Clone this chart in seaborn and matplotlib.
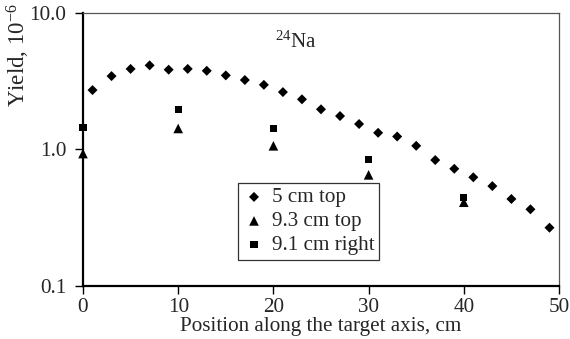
import matplotlib
matplotlib.use("Agg")
import matplotlib.pyplot as plt
import seaborn as sns
import pandas as pd
from matplotlib.ticker import FixedLocator, FixedFormatter, NullLocator

# Yield of 24Na along the target axis for three detector placements
pos_5cm_top = [1, 3, 5, 7, 9, 11, 13, 15, 17, 19, 21, 23, 25, 27, 29, 31, 33,
               35, 37, 39, 41, 43, 45, 47, 49]
yield_5cm_top = [2.71, 3.43, 3.87, 4.11, 3.82, 3.87, 3.75, 3.47, 3.21, 2.96,
                 2.62, 2.32, 1.96, 1.75, 1.53, 1.32, 1.24, 1.06, 0.834, 0.72,
                 0.624, 0.538, 0.433, 0.364, 0.267]

pos_9_3cm_top = [0, 10, 20, 30, 40]
yield_9_3cm_top = [0.93, 1.42, 1.06, 0.65, 0.41]

pos_9_1cm_right = [0, 10, 20, 30, 40]
yield_9_1cm_right = [1.44, 1.96, 1.42, 0.84, 0.446]

series_names = ["5 cm top", "9.3 cm top", "9.1 cm right"]
x_ticks = [0, 10, 20, 30, 40, 50]
y_ticks = [0.1, 1.0, 10.0]
y_tick_labels = ["0.1", "1.0", "10.0"]

df = pd.concat([
    pd.DataFrame({"pos": pos_5cm_top, "yield": yield_5cm_top, "series": series_names[0]}),
    pd.DataFrame({"pos": pos_9_3cm_top, "yield": yield_9_3cm_top, "series": series_names[1]}),
    pd.DataFrame({"pos": pos_9_1cm_right, "yield": yield_9_1cm_right, "series": series_names[2]}),
], ignore_index=True)

sns.set_style("white")
plt.rcParams["font.family"] = ["Liberation Serif", "DejaVu Serif"]
plt.rcParams["mathtext.fontset"] = "custom"
plt.rcParams["mathtext.rm"] = "Liberation Serif"
plt.rcParams["mathtext.it"] = "Liberation Serif:italic"

FS = 15.2

fig = plt.figure(figsize=(5.7, 3.39), dpi=100)
ax = fig.add_axes([0.1456, 0.1563, 0.8351, 0.8067])

markers = {series_names[0]: "D", series_names[1]: "^", series_names[2]: "s"}
sizes = {series_names[0]: 26, series_names[1]: 48, series_names[2]: 26}
for name in series_names:
    sub = df[df["series"] == name]
    sns.scatterplot(data=sub, x="pos", y="yield", ax=ax, marker=markers[name],
                    s=sizes[name], color="black", edgecolor="none",
                    label=name, zorder=3, clip_on=False)

ax.set_yscale("log")
ax.set_xlim(0, 50)
ax.set_ylim(0.1, 10.0)
ax.xaxis.set_major_locator(FixedLocator(x_ticks))
ax.yaxis.set_major_locator(FixedLocator(y_ticks))
ax.yaxis.set_major_formatter(FixedFormatter(y_tick_labels))
ax.yaxis.set_minor_locator(NullLocator())

for side in ["left", "bottom"]:
    ax.spines[side].set_color("black")
    ax.spines[side].set_linewidth(1.6)
for side in ["top", "right"]:
    ax.spines[side].set_color("#555555")
    ax.spines[side].set_linewidth(0.9)
    ax.spines[side].set_visible(True)

ax.tick_params(axis="both", which="major", direction="out", length=6,
               width=1.0, color="black", labelsize=FS,
               left=True, bottom=True)
ax.tick_params(axis="x", pad=2.5)
ax.tick_params(axis="y", pad=6)

ax.set_xlabel("Position along the target axis, cm", fontsize=FS, labelpad=0)
ax.set_ylabel("Yield, 10$^{-6}$", fontsize=16.5)
ax.yaxis.set_label_coords(0.056, 0.836, transform=fig.transFigure)

ax.text(0.447, 0.893, "$^{24}$Na", transform=ax.transAxes, fontsize=FS,
        ha="center", va="center")

leg = ax.legend(loc="upper left", bbox_to_anchor=(0.326, 0.375), frameon=True,
                fancybox=False, edgecolor="#333333", fontsize=FS,
                framealpha=1, handletextpad=0.3, borderpad=0.2,
                labelspacing=0.2, handlelength=1.1, borderaxespad=0)
leg.get_frame().set_linewidth(0.9)
leg.set_zorder(5)

fig.savefig("out.png", dpi=100)
